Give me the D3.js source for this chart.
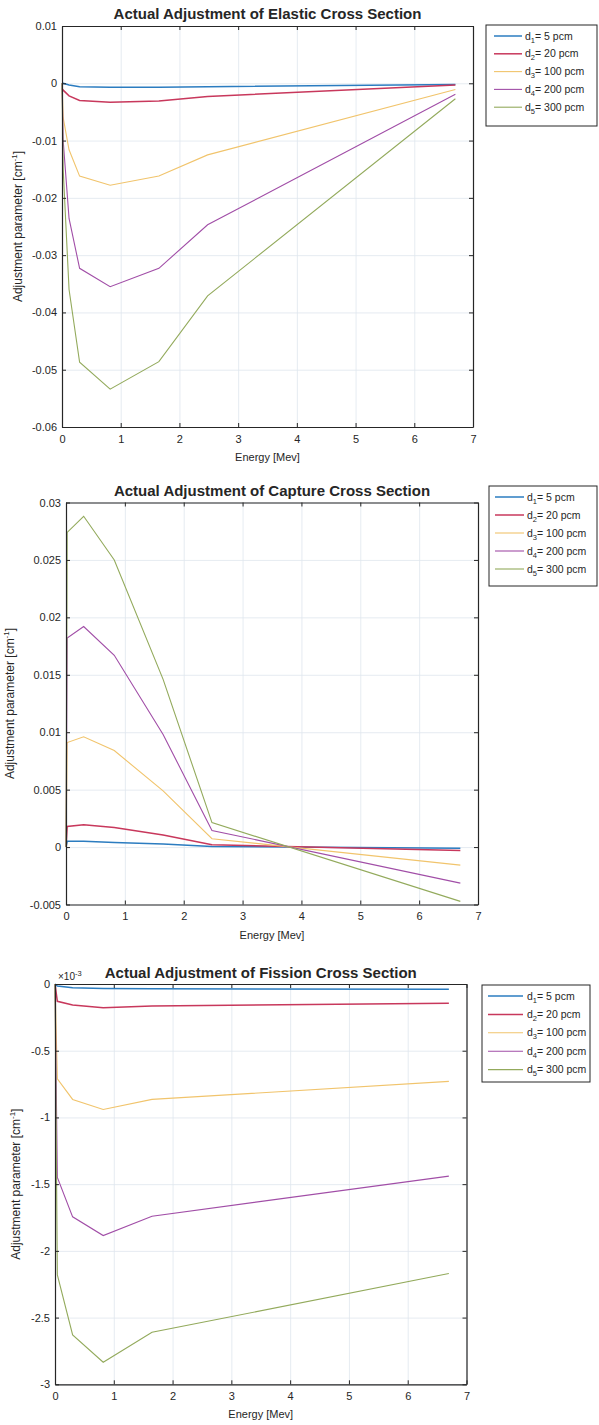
<!DOCTYPE html>
<html>
<head>
<meta charset="utf-8">
<script src="https://cdn.jsdelivr.net/npm/d3@7"></script>
<style>
  body { margin: 0; background: #fff; }
  svg { display: block; font-family: "Liberation Sans", Arial, Helvetica, sans-serif; }
</style>
</head>
<body>
<svg id="chart" width="599" height="1425"></svg>
<script>
// legend entries, shared by all three panels
var seriesIndex = ['1', '2', '3', '4', '5'];
var seriesPcm = ['5', '20', '100', '200', '300'];
var seriesColors = ['#2b7cc0', '#c8385c', '#f1c46c', '#a14ea7', '#93aa5c'];

var xTickValues = [0, 1, 2, 3, 4, 5, 6, 7];

// elastic panel
var elasticEnergy = [0, 0.02, 0.12, 0.3, 0.82, 1.65, 2.48, 6.7];
var elasticValues = [
  [0.0001, 0, -0.0003, -0.0006, -0.0007, -0.0007, -0.0006, -0.0002],
  [-0.0009, -0.0012, -0.0022, -0.0030, -0.0033, -0.0031, -0.0023, -0.0003],
  [0, -0.006, -0.0116, -0.0162, -0.0178, -0.0162, -0.0125, -0.0011],
  [0, -0.010, -0.0236, -0.0323, -0.0355, -0.0323, -0.0247, -0.0019],
  [0, -0.015, -0.036, -0.0487, -0.0534, -0.0486, -0.0371, -0.0027]
];
var elasticTicks = [-0.06, -0.05, -0.04, -0.03, -0.02, -0.01, 0, 0.01];

// capture panel
var captureEnergy = [0, 0.02, 0.3, 0.82, 1.65, 2.48, 6.7];
var captureValues = [
  [0, 0.0005, 0.0005, 0.0004, 0.00027, 0.00005, -0.0001],
  [0, 0.0018, 0.00195, 0.0017, 0.00105, 0.0002, -0.0003],
  [0, 0.0091, 0.0096, 0.0084, 0.0049, 0.00073, -0.00157],
  [0, 0.0182, 0.0192, 0.0167, 0.0098, 0.00145, -0.00314],
  [0, 0.0274, 0.0288, 0.025, 0.0146, 0.00213, -0.00473]
];
var captureTicks = [-0.005, 0, 0.005, 0.01, 0.015, 0.02, 0.025, 0.03];

// fission panel (values in units of 1e-3)
var fissionEnergy = [0, 0.04, 0.3, 0.82, 1.65, 6.7];
var fissionValues = [
  [0, -0.015, -0.028, -0.033, -0.035, -0.04],
  [0, -0.13, -0.157, -0.178, -0.165, -0.145],
  [0, -0.71, -0.865, -0.94, -0.865, -0.73],
  [0, -1.45, -1.745, -1.885, -1.74, -1.44],
  [0, -2.18, -2.63, -2.835, -2.61, -2.17]
];
var fissionTicks = [-3, -2.5, -2, -1.5, -1, -0.5, 0];

var svg = d3.select('#chart');
var ink = '#262626';

var fmt = function(d) { return d === 0 ? '0' : String(+d.toFixed(4)); };

var drawPanel = function(p) {
  var g = svg.append('g');
  var x = d3.scaleLinear().domain([0, 7]).range([p.left, p.right]);
  var y = d3.scaleLinear().domain(p.yDomain).range([p.bottom, p.top]);
  var w = p.right - p.left;
  var h = p.bottom - p.top;
  var cx = (p.left + p.right) / 2;

  // grid
  g.append('g').attr('class', 'grid').attr('transform', 'translate(0,' + p.bottom + ')')
    .call(d3.axisBottom(x).tickValues(xTickValues).tickSize(-h).tickFormat(''));
  g.append('g').attr('class', 'grid').attr('transform', 'translate(' + p.left + ',0)')
    .call(d3.axisLeft(y).tickValues(p.yTicks).tickSize(-w).tickFormat(''));
  g.selectAll('.grid .domain').remove();
  g.selectAll('.grid line').attr('stroke', '#dfe6ee').attr('stroke-width', 0.8);

  // series
  var line = d3.line()
    .x(function(d) { return x(d[0]); })
    .y(function(d) { return y(d[1]); });
  p.values.forEach(function(vals, i) {
    g.append('path')
      .datum(p.energy.map(function(e, j) { return [e, vals[j]]; }))
      .attr('d', line)
      .attr('fill', 'none')
      .attr('stroke', seriesColors[i])
      .attr('stroke-width', i < 2 ? 1.5 : 1.1);
  });

  // box axes, ticks pointing inward
  var axes = [
    g.append('g').attr('transform', 'translate(0,' + p.bottom + ')')
      .call(d3.axisBottom(x).tickValues(xTickValues).tickSize(-4).tickSizeOuter(0).tickPadding(8).tickFormat(fmt)),
    g.append('g').attr('transform', 'translate(' + p.left + ',0)')
      .call(d3.axisLeft(y).tickValues(p.yTicks).tickSize(-4).tickSizeOuter(0).tickPadding(5).tickFormat(fmt)),
    g.append('g').attr('transform', 'translate(0,' + p.top + ')')
      .call(d3.axisTop(x).tickValues(xTickValues).tickSize(-4).tickSizeOuter(0).tickFormat('')),
    g.append('g').attr('transform', 'translate(' + p.right + ',0)')
      .call(d3.axisRight(y).tickValues(p.yTicks).tickSize(-4).tickSizeOuter(0).tickFormat(''))
  ];
  axes.forEach(function(a) {
    a.select('.domain').attr('stroke', ink).attr('stroke-width', 1.2);
    a.selectAll('.tick line').attr('stroke', ink);
    a.selectAll('.tick text').attr('fill', ink).style('font-size', '11px');
  });

  // title and labels
  g.append('text')
    .attr('x', cx).attr('y', p.titleY)
    .attr('text-anchor', 'middle')
    .style('font-size', '15px').style('font-weight', 'bold')
    .attr('fill', ink)
    .text(p.title);

  g.append('text')
    .attr('x', cx).attr('y', p.bottom + 34)
    .attr('text-anchor', 'middle')
    .style('font-size', '11px')
    .attr('fill', ink)
    .text('Energy [Mev]');

  var yl = g.append('text')
    .attr('transform', 'translate(' + p.ylabelX + ',' + (p.top + h / 2) + ') rotate(-90)')
    .attr('text-anchor', 'middle')
    .style('font-size', '12px')
    .attr('fill', ink);
  yl.append('tspan').text('Adjustment parameter [cm');
  yl.append('tspan').attr('dy', -5).style('font-size', '8px').text('-1');
  yl.append('tspan').attr('dy', 5).text(']');

  if (p.exponent) {
    var ex = g.append('text')
      .attr('x', p.left + 3).attr('y', p.top - 4)
      .style('font-size', '10px')
      .attr('fill', ink);
    ex.append('tspan').text('\u00d710');
    ex.append('tspan').attr('dy', -4).style('font-size', '7.5px').text(p.exponent);
  }

  // legend
  var L = p.legend;
  g.append('rect')
    .attr('x', L.x).attr('y', L.y).attr('width', L.w).attr('height', L.h)
    .attr('fill', '#fff').attr('stroke', ink).attr('stroke-width', 1);
  seriesIndex.forEach(function(s, i) {
    var ry = L.row0 + i * L.step;
    g.append('line')
      .attr('x1', L.lx1).attr('x2', L.lx2).attr('y1', ry).attr('y2', ry)
      .attr('stroke', seriesColors[i]).attr('stroke-width', i < 2 ? 1.5 : 1.1);
    var t = g.append('text')
      .attr('x', L.tx).attr('y', ry + 3.5)
      .style('font-size', '10.5px')
      .attr('fill', ink);
    t.append('tspan').text('d');
    t.append('tspan').attr('dy', 3).style('font-size', '7.5px').text(s);
    t.append('tspan').attr('dy', -3).text('= ' + seriesPcm[i] + ' pcm');
  });
};

drawPanel({
  title: 'Actual Adjustment of Elastic Cross Section',
  left: 62, right: 473, top: 26, bottom: 427,
  yDomain: [-0.06, 0.01], yTicks: elasticTicks,
  energy: elasticEnergy, values: elasticValues,
  titleY: 18.5, ylabelX: 22,
  legend: { x: 486, y: 25, w: 111, h: 101, row0: 36, step: 17.8, lx1: 494, lx2: 522, tx: 525 }
});

drawPanel({
  title: 'Actual Adjustment of Capture Cross Section',
  left: 66, right: 478, top: 502.5, bottom: 904.5,
  yDomain: [-0.005, 0.03], yTicks: captureTicks,
  energy: captureEnergy, values: captureValues,
  titleY: 495.5, ylabelX: 14,
  legend: { x: 489, y: 486, w: 108, h: 100, row0: 497, step: 18, lx1: 495, lx2: 524, tx: 527 }
});

drawPanel({
  title: 'Actual Adjustment of Fission Cross Section',
  left: 55, right: 466.5, top: 984, bottom: 1384.3,
  yDomain: [-3, 0], yTicks: fissionTicks,
  energy: fissionEnergy, values: fissionValues,
  titleY: 977.5, ylabelX: 20, exponent: '-3',
  legend: { x: 482, y: 985, w: 108, h: 97, row0: 996, step: 18.4, lx1: 488, lx2: 523, tx: 527 }
});
</script>
</body>
</html>
